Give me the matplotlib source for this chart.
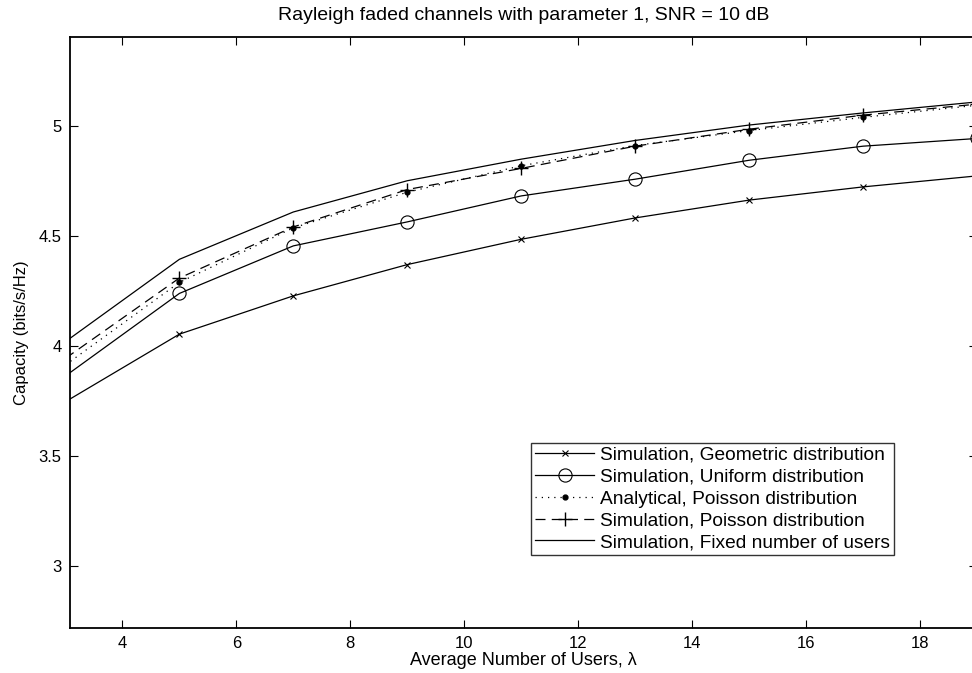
import matplotlib
matplotlib.use("Agg")
import matplotlib.pyplot as plt

plt.rcParams['font.family'] = ['Liberation Sans', 'DejaVu Sans']

# Average number of users (lambda)
lam = [3, 5, 7, 9, 11, 13, 15, 17, 19]

# Capacity in bits/s/Hz
cap_geometric = [3.748, 4.055, 4.229, 4.371, 4.486, 4.583, 4.664, 4.724, 4.774]
cap_uniform = [3.865, 4.240, 4.456, 4.565, 4.683, 4.759, 4.845, 4.909, 4.944]
cap_poisson_analytical = [3.915, 4.290, 4.538, 4.700, 4.820, 4.912, 4.980, 5.040, 5.095]
cap_poisson_sim = [3.945, 4.310, 4.542, 4.712, 4.808, 4.909, 4.986, 5.050, 5.100]
cap_fixed = [4.021, 4.395, 4.610, 4.752, 4.850, 4.935, 5.005, 5.060, 5.110]

labels = [
    "Simulation, Geometric distribution",
    "Simulation, Uniform distribution",
    "Analytical, Poisson distribution",
    "Simulation, Poisson distribution",
    "Simulation, Fixed number of users",
]

W, H = 972, 673
fig = plt.figure(figsize=(W / 100, H / 100), dpi=100)
left, right, top, bottom = 70, 977, 37, 628
ax = fig.add_axes([left / W, (H - bottom) / H, (right - left) / W, (bottom - top) / H])

lw = 0.9
mk = slice(1, None)
ax.plot(lam, cap_geometric, color='k', lw=lw, marker='x', ms=4.5, mew=0.8,
        markevery=mk, label=labels[0])
ax.plot(lam, cap_uniform, color='k', lw=lw, marker='o', ms=9.5, mfc='none', mew=0.8,
        markevery=mk, label=labels[1])
ax.plot(lam, cap_poisson_analytical, color='k', lw=lw, ls=(0, (1, 4)), marker='.',
        ms=7, markevery=mk, label=labels[2])
ax.plot(lam, cap_poisson_sim, color='k', lw=lw, ls=(0, (8, 5)), marker='+', ms=10,
        mew=1.0, markevery=mk, label=labels[3])
ax.plot(lam, cap_fixed, color='k', lw=lw, label=labels[4])

ax.set_xlim(3.08, 19)
ax.set_ylim(2.72, 5.405)
ax.set_xticks([4, 6, 8, 10, 12, 14, 16, 18])
ax.set_yticks([3, 3.5, 4, 4.5, 5])
ax.set_yticklabels(['3', '3.5', '4', '4.5', '5'])

for s in ax.spines.values():
    s.set_linewidth(1.3)
ax.tick_params(direction='in', length=5.5, width=0.8, top=True, right=True,
               labelsize=12, pad=6)

ax.set_title("Rayleigh faded channels with parameter 1, SNR = 10 dB", fontsize=14, pad=12.5)
ax.set_xlabel("Average Number of Users, \u03bb", fontsize=13, labelpad=0.5)
ax.set_ylabel("Capacity (bits/s/Hz)", fontsize=12, labelpad=7)

leg = ax.legend(loc='lower left', bbox_to_anchor=((531 - left) / (right - left),
                (bottom - 555) / (bottom - top)),
                fontsize=13.8, frameon=True, fancybox=False, edgecolor='k',
                handlelength=3.1, handletextpad=0.32, borderpad=0.2,
                labelspacing=0.23, borderaxespad=0)
leg.get_frame().set_linewidth(1.0)

fig.savefig("out.png", dpi=100)
